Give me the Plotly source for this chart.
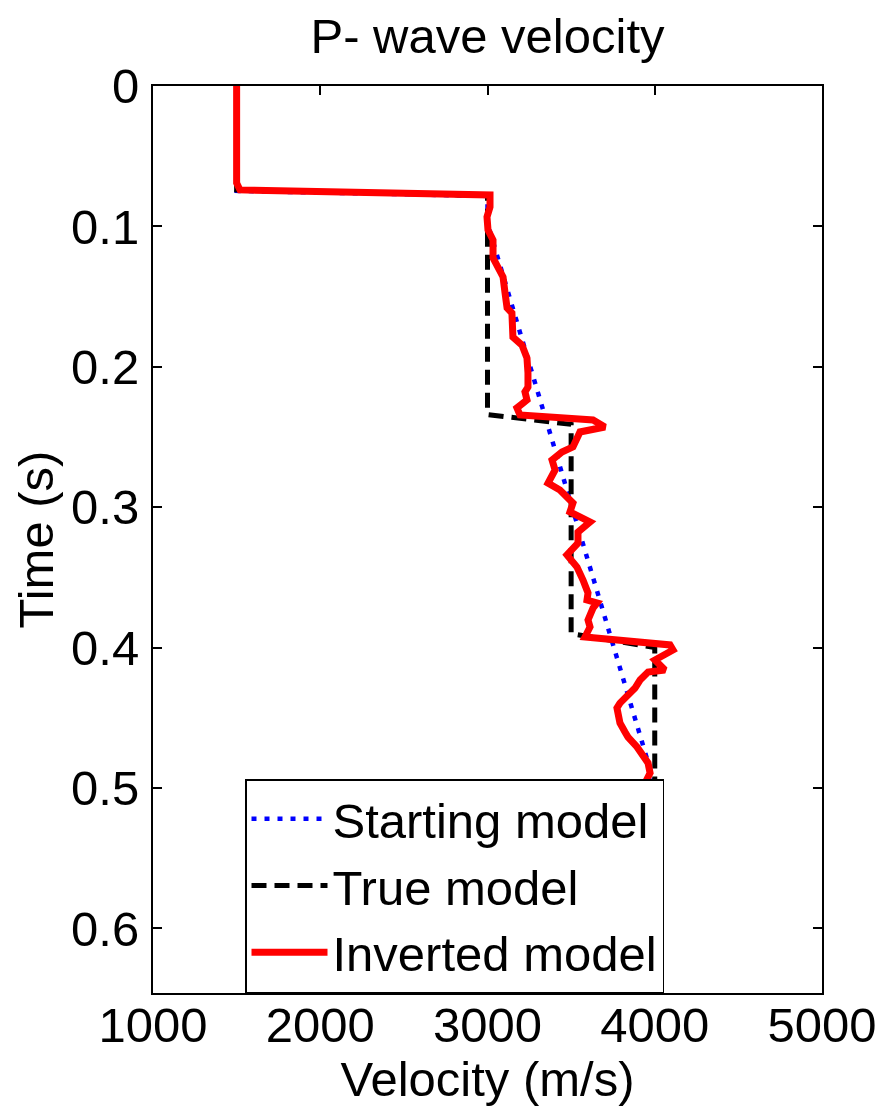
import plotly.graph_objects as go

# Starting model (blue dotted)
start_time = [0.0, 0.0747, 0.0783, 0.0977, 0.4977, 0.646]
start_vel = [1500, 1500, 3000, 3000, 4000, 4000]

# True model (black dashed)
true_time = [0.0, 0.0740, 0.0780, 0.2340, 0.2410, 0.3900, 0.4000, 0.646]
true_vel = [1500, 1500, 3000, 3000, 3500, 3500, 4000, 4000]

# Inverted model (red solid)
inv_time = [0.0, 0.069, 0.074, 0.0776, 0.0862, 0.0933, 0.1026, 0.1097, 0.1225,
            0.1296, 0.136, 0.1474, 0.1581, 0.1617, 0.1738, 0.1788, 0.1845,
            0.1937, 0.2044, 0.2144, 0.2179, 0.2236, 0.2293, 0.2343, 0.2379,
            0.2429, 0.2464, 0.2571, 0.2607, 0.2664, 0.2735, 0.2828, 0.2877,
            0.297, 0.3034, 0.3105, 0.3177, 0.3255, 0.334, 0.3426, 0.3519,
            0.3611, 0.3661, 0.3682, 0.3718, 0.3803, 0.3853, 0.3924, 0.3981,
            0.4017, 0.4088, 0.416, 0.4174, 0.4231, 0.4288, 0.4352, 0.4395,
            0.443, 0.4537, 0.4601, 0.4637, 0.4708, 0.4765, 0.4822, 0.4893,
            0.4964, 0.5014, 0.5064, 0.52, 0.55, 0.58, 0.61, 0.646]
inv_vel = [1500, 1500, 1520, 3015, 3015, 2997, 3003, 3033, 3033,
           3063, 3093, 3105, 3117, 3146, 3152, 3152, 3206,
           3236, 3242, 3242, 3224, 3236, 3176, 3194, 3631,
           3702, 3553, 3511, 3445, 3386, 3404, 3362, 3433,
           3511, 3493, 3613, 3541, 3541, 3475, 3535, 3571,
           3601, 3595, 3655, 3631, 3601, 3613, 3583, 4091,
           4109, 4001, 4061, 3960, 3912, 3882, 3822, 3792,
           3774, 3792, 3822, 3840, 3894, 3930, 3960, 3972,
           3942, 3942, 4001, 3985, 4015, 3990, 4010, 3985]

x_ticks = [1000, 2000, 3000, 4000, 5000]
y_ticks = [0, 0.1, 0.2, 0.3, 0.4, 0.5, 0.6]
y_ticktext = ["0", "0.1", "0.2", "0.3", "0.4", "0.5", "0.6"]

FONT = "Liberation Sans, Arial, Helvetica, sans-serif"
FS = 49

fig = go.Figure()
fig.add_trace(go.Scatter(x=start_vel, y=start_time, mode="lines", name="Starting model",
                         line=dict(color="#0000ff", width=4.5, dash="5px,8px")))
fig.add_trace(go.Scatter(x=true_vel, y=true_time, mode="lines", name="True model",
                         line=dict(color="#000000", width=5, dash="15px,8px")))
fig.add_trace(go.Scatter(x=inv_vel, y=inv_time, mode="lines", name="Inverted model",
                         line=dict(color="#ff0000", width=7)))

fig.update_layout(
    width=883, height=1109,
    margin=dict(l=153, r=61, t=86, b=116),
    paper_bgcolor="white", plot_bgcolor="white",
    font=dict(family=FONT, size=FS, color="black"),
    title=dict(text="P- wave velocity", x=(153 + 822) / 2 / 883, xanchor="center",
               y=1 - 36 / 1109, yanchor="middle", yref="container",
               font=dict(family=FONT, size=FS, color="black")),
    showlegend=True,
    legend=dict(x=(245 - 153) / 669, y=0, xanchor="left", yanchor="bottom",
                bgcolor="white", bordercolor="black", borderwidth=1.5,
                font=dict(family=FONT, size=FS, color="black"), itemwidth=76,
                tracegroupgap=0),
)
fig.update_xaxes(range=[1000, 5000], tickvals=x_ticks, ticks="inside", ticklen=9,
                 tickwidth=1.5, tickcolor="black", showline=True, linecolor="black",
                 linewidth=2, mirror="ticks", showgrid=False, zeroline=False,
                 automargin=False,
                 tickfont=dict(family=FONT, size=FS, color="black"),
                 title=dict(text="Velocity (m/s)", standoff=2,
                            font=dict(family=FONT, size=FS, color="black")),
                 ticklabelstandoff=-12)
fig.update_yaxes(range=[0.646, 0], tickvals=y_ticks, ticktext=y_ticktext, ticks="inside",
                 ticklen=9, tickwidth=1.5, tickcolor="black", showline=True,
                 linecolor="black", linewidth=2, mirror="ticks", showgrid=False,
                 zeroline=False, automargin=False,
                 tickfont=dict(family=FONT, size=FS, color="black"),
                 title=dict(text="Time (s)", standoff=2,
                            font=dict(family=FONT, size=FS, color="black")),
                 ticklabelstandoff=2)

fig.write_html("out.html")
